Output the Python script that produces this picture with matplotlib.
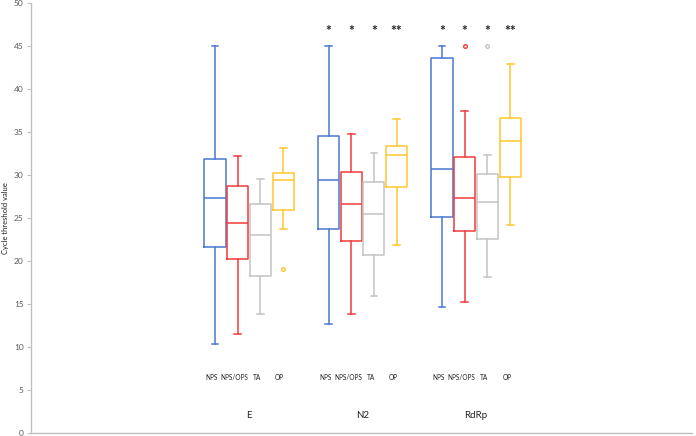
import numpy as np
import matplotlib.pyplot as plt

plt.rcParams['font.family'] = ['Lato', 'DejaVu Sans']

# Ct values, order per gene: NPS, NPS/OPS, TA, OP
genes = ['E', 'N2', 'RdRp']
samples = ['NPS', 'NPS/OPS', 'TA', 'OP']
colors = ['#4A78D0', '#F03A3A', '#C4C4C4', '#FFC82E']

whislo = [[10.4, 11.5, 13.8, 23.8],
          [12.7, 13.8, 16.0, 21.9],
          [14.7, 15.3, 18.1, 24.2]]
q1 = [[21.6, 20.2, 18.3, 26.0],
      [23.8, 22.4, 20.7, 28.6],
      [25.2, 23.5, 22.6, 29.8]]
med = [[27.3, 24.4, 23.0, 29.4],
       [29.5, 26.6, 25.5, 32.4],
       [30.7, 27.4, 26.9, 34.0]]
q3 = [[31.9, 28.8, 26.7, 30.3],
      [34.6, 30.4, 29.2, 33.4],
      [43.6, 32.1, 30.2, 36.7]]
whishi = [[45.0, 32.3, 29.6, 33.2],
          [45.0, 34.8, 32.6, 36.5],
          [45.0, 37.5, 32.4, 42.9]]
fliers = [[[], [], [], [19.1]],
          [[], [], [], []],
          [[], [45.0], [45.0], []]]
stars = [['', '', '', ''],
         ['*', '*', '*', '**'],
         ['*', '*', '*', '**']]

fig = plt.figure(figsize=(6.96, 4.36), dpi=100)
ax = fig.add_axes([0.044, 0.007, 0.950, 0.985])

for g, gene in enumerate(genes):
    for s, name in enumerate(samples):
        pos = 1 + g * 5 + s
        c = colors[s]
        st = dict(whislo=whislo[g][s], q1=q1[g][s], med=med[g][s],
                  q3=q3[g][s], whishi=whishi[g][s], fliers=fliers[g][s])
        ax.bxp([st], positions=[pos], widths=0.93, capwidths=0.3,
               showfliers=True,
               boxprops=dict(color=c, linewidth=1.1),
               medianprops=dict(color=c, linewidth=1.1),
               whiskerprops=dict(color=c, linewidth=1.1),
               capprops=dict(color=c, linewidth=1.1),
               flierprops=dict(marker='o', markersize=2.6, markerfacecolor='none',
                               markeredgecolor=c, markeredgewidth=1.0))
        ax.text(pos - 0.15, 6.5, name, ha='center', va='center',
                fontsize=4.7, color='#202020')
        if stars[g][s]:
            ax.text(pos, 46.8, stars[g][s], ha='center', va='center',
                    fontsize=10, fontweight='bold', color='#202020')
    ax.text(2.5 + g * 5, 2.0, gene, ha='center', va='center',
            fontsize=7, color='#202020')

ax.set_xlim(-7.12, 22.0)
ax.set_ylim(0, 50)
ax.set_yticks(np.arange(0, 51, 5))
ax.set_xticks([])
ax.tick_params(axis='y', direction='out', length=3, width=0.8,
               color='#BFBFBF', labelcolor='#595959', labelsize=6, pad=2)
for side in ['top', 'right']:
    ax.spines[side].set_visible(False)
for side in ['left', 'bottom']:
    ax.spines[side].set_color('#BFBFBF')
    ax.spines[side].set_linewidth(1.0)
ax.spines['bottom'].set_clip_on(False)

fig.text(0.008, 0.5, 'Cycle threshold value', rotation=90, ha='center',
         va='center', fontsize=5.5, color='#202020')

fig.savefig('out.png', dpi=100)
